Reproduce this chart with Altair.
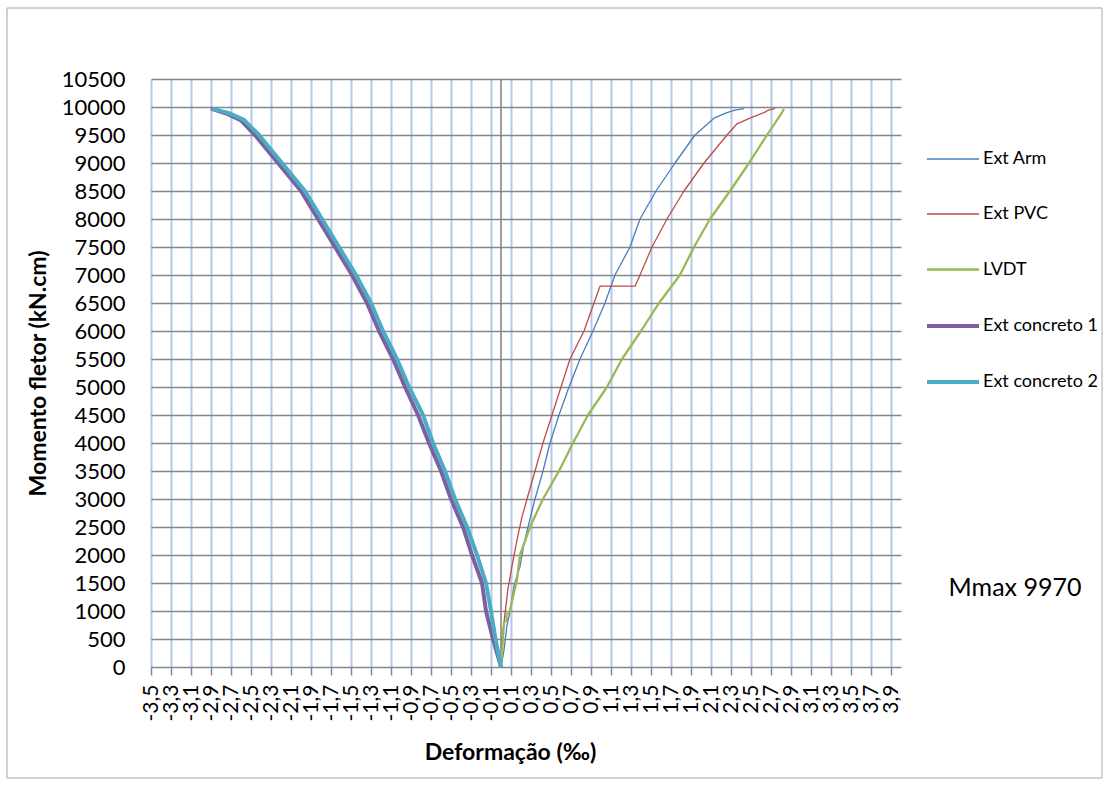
import altair as alt
import pandas as pd

FONT = "Lato"

# Series and styling
series_names = ["Ext Arm", "Ext PVC", "LVDT", "Ext concreto 1", "Ext concreto 2"]
series_colors = ["#4a7ebb", "#be4b48", "#98b954", "#7d60a0", "#4bacc6"]
series_widths = [1.3, 1.3, 2.3, 4.0, 4.0]

# Deformação (‰) and momento fletor (kN.cm) for each gauge
arm_def = [0, 0.03, 0.06, 0.08, 0.10, 0.13, 0.19, 0.23, 0.27, 0.34, 0.42, 0.49, 0.58, 0.68,
           0.79, 0.92, 1.04, 1.14, 1.29, 1.39, 1.55, 1.74, 1.94, 2.13, 2.26, 2.35, 2.43]
arm_mom = [0, 300, 750, 900, 1100, 1450, 1800, 2200, 2500, 3000, 3500, 4000, 4500, 5000,
           5500, 6000, 6500, 7000, 7500, 8000, 8500, 9000, 9500, 9800, 9900, 9950, 9970]

pvc_def = [0, 0.01, 0.03, 0.07, 0.11, 0.16, 0.21, 0.26, 0.34, 0.42, 0.51, 0.60, 0.69, 0.83,
           0.93, 0.99, 1.34, 1.39, 1.51, 1.66, 1.83, 2.03, 2.26, 2.36, 2.49, 2.63, 2.68, 2.74]
pvc_mom = [0, 500, 800, 1400, 1800, 2270, 2680, 3000, 3500, 4000, 4500, 5000, 5500, 6000,
           6500, 6800, 6800, 7000, 7500, 8000, 8500, 9000, 9500, 9700, 9800, 9900, 9950, 9970]

lvdt_def = [0, 0.03, 0.06, 0.05, 0.09, 0.12, 0.16, 0.19, 0.29, 0.42, 0.58, 0.72, 0.87, 1.06,
            1.21, 1.40, 1.58, 1.79, 1.93, 2.09, 2.29, 2.48, 2.66, 2.81, 2.83]
lvdt_mom = [0, 790, 850, 920, 1000, 1260, 1560, 2000, 2500, 3000, 3500, 4000, 4500, 5000,
            5500, 6000, 6500, 7000, 7500, 8000, 8500, 9000, 9500, 9900, 9970]

conc1_def = [0, -0.08, -0.15, -0.19, -0.29, -0.38, -0.50, -0.60, -0.72, -0.83, -0.96, -1.08,
             -1.22, -1.34, -1.49, -1.66, -1.83, -2.00, -2.23, -2.46, -2.60, -2.74, -2.90]
conc1_mom = [0, 500, 1000, 1500, 2000, 2500, 3000, 3500, 4000, 4500, 5000, 5500,
             6000, 6500, 7000, 7500, 8000, 8500, 9000, 9500, 9760, 9880, 9970]

conc2_def = [0, -0.055, -0.10, -0.15, -0.24, -0.34, -0.46, -0.56, -0.68, -0.78, -0.92, -1.04,
             -1.18, -1.30, -1.45, -1.62, -1.79, -1.96, -2.19, -2.42, -2.57, -2.72, -2.89]
conc2_mom = [0, 500, 1000, 1500, 2000, 2500, 3000, 3500, 4000, 4500, 5000, 5500,
             6000, 6500, 7000, 7500, 8000, 8500, 9000, 9500, 9770, 9890, 9970]

# Axis tick values
x_ticks = [round(-3.5 + 0.2 * k, 1) for k in range(38)]
y_ticks = list(range(0, 10501, 500))

rows = []
for name, xs, ys in [
    ("Ext Arm", arm_def, arm_mom),
    ("Ext PVC", pvc_def, pvc_mom),
    ("LVDT", lvdt_def, lvdt_mom),
    ("Ext concreto 1", conc1_def, conc1_mom),
    ("Ext concreto 2", conc2_def, conc2_mom),
]:
    for i, (xv, yv) in enumerate(zip(xs, ys)):
        rows.append({"serie": name, "idx": i, "def": xv, "mom": yv})
df = pd.DataFrame(rows)

x_enc = alt.X(
    "def:Q",
    scale=alt.Scale(domain=[-3.5, 4.0], nice=False, zero=False),
    axis=alt.Axis(
        values=x_ticks,
        title="Deformação (‰)",
        titleFont=FONT, titleFontSize=23, titleFontWeight="bold", titleColor="#000000",
        titleX=359, titleY=85, titleAlign="center", titleBaseline="middle",
        labelExpr="replace(replace(format(datum.value, '.1f'), '.', ','), '\u2212', '-')",
        labelAngle=270, labelAlign="right", labelBaseline="middle",
        labelFont=FONT, labelFontSize=21, labelColor="#000000",
        labelPadding=9, labelOverlap=False, labelFlush=False,
        ticks=True, tickSize=8, tickColor="#878787", tickWidth=1.5,
        grid=True, gridColor="#b3c8ee", gridWidth=2,
        domain=False,
    ),
)
y_enc = alt.Y(
    "mom:Q",
    scale=alt.Scale(domain=[0, 10500], nice=False, zero=True),
    axis=alt.Axis(
        values=y_ticks,
        title="Momento fletor (kN.cm)",
        titleFont=FONT, titleFontSize=23, titleFontWeight="bold", titleColor="#000000",
        titleAngle=270, titleX=-113, titleY=294, titleAlign="center", titleBaseline="middle",
        format="d",
        labelFont=FONT, labelFontSize=22, labelColor="#000000",
        labelPadding=26, labelOverlap=False, labelFlush=False,
        ticks=False,
        grid=True, gridColor="#878787", gridWidth=1.6,
        domain=False,
    ),
)

# Vertical reference line through zero strain
zero_line = alt.Chart(pd.DataFrame({"def": [0.0], "mom": [0], "mom2": [10500]})).mark_rule(
    color="#878787", strokeWidth=1.6
).encode(x=x_enc, y=y_enc, y2=alt.Y2("mom2:Q"))

lines = alt.Chart(df).mark_line(strokeJoin="round", strokeCap="butt").encode(
    x=x_enc,
    y=y_enc,
    color=alt.Color(
        "serie:N",
        scale=alt.Scale(domain=series_names, range=series_colors),
        legend=alt.Legend(title=None),
    ),
    strokeWidth=alt.StrokeWidth(
        "serie:N",
        scale=alt.Scale(type="ordinal", domain=series_names, range=series_widths),
        legend=alt.Legend(title=None),
    ),
    order=alt.Order("idx:Q"),
)

mmax = alt.Chart(pd.DataFrame({"t": ["Mmax 9970"]})).mark_text(
    font=FONT, fontSize=25, align="center", baseline="middle", color="#000000"
).encode(x=alt.value(864), y=alt.value(509), text="t:N")

frame = alt.Chart(pd.DataFrame({"a": [0]})).mark_rect(
    fill=None, stroke="#a6a6a6", strokeWidth=1
).encode(x=alt.value(-144), x2=alt.value(951), y=alt.value(-71), y2=alt.value(699))

chart = alt.layer(frame, zero_line, lines, mmax).properties(
    width=750,
    height=588,
    autosize="none",
    padding={"left": 151, "top": 79, "right": 207, "bottom": 118},
    background="#ffffff",
).configure_view(stroke=None).configure_legend(
    orient="none",
    legendX=774,
    legendY=53,
    symbolType="stroke",
    symbolSize=2704,
    labelFont=FONT,
    labelFontSize=18,
    labelColor="#000000",
    labelOffset=2,
    rowPadding=19,
    padding=0,
)

chart.save("out.html", embed_options={"renderer": "svg", "actions": False})
